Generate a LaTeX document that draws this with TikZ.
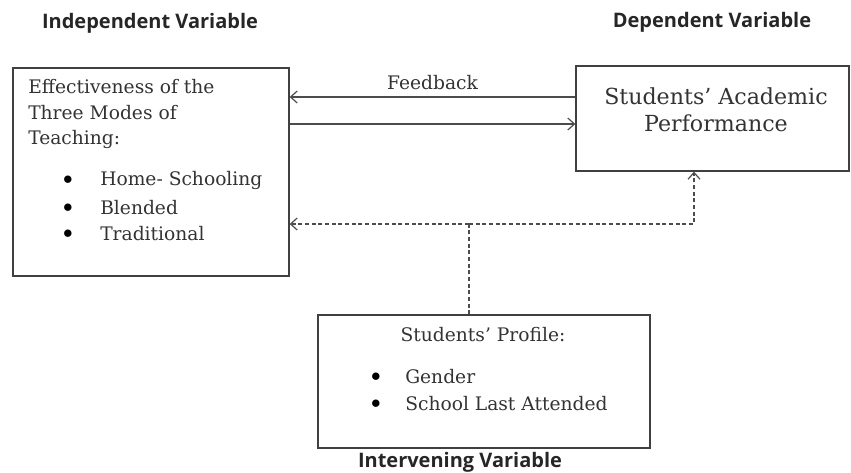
\documentclass[tikz,border=0pt]{standalone}
\usepackage{fontspec}
\setmainfont{DejaVu Serif}
\newfontfamily\headfont{Open Sans}
\usetikzlibrary{arrows.meta}
\begin{document}
\begin{tikzpicture}[x=0.75pt,y=-0.75pt,
  box/.style={draw=black!75,line width=1pt,inner sep=0pt},
  conn/.style={draw=black!70,line width=0.9pt,-{Straight Barb[length=5pt,width=9pt]}},
  dconn/.style={conn,dash pattern=on 3pt off 2pt},
  head/.style={font=\headfont\bfseries\fontsize{15}{18}\selectfont,text=black!85},
  txt/.style={font=\fontsize{14}{16}\selectfont,text=black!80,inner sep=0pt},
  blt/.style={font=\fontsize{15}{16}\selectfont,text=black,inner sep=0pt}]
\useasboundingbox (0,0) rectangle (851,472);
\node[head] (hi) at (150,23) {Independent Variable};
\node[head] (hd) at (712,22) {Dependent Variable};
\node[head] (hv) at (460,462) {Intervening Variable};
% boxes
\node[box,minimum width=207pt,minimum height=156pt] (ind) at (151,172) {};
\node[box,minimum width=204.75pt,minimum height=78.75pt] (dep) at (712.5,118.5) {};
\node[box,minimum width=249pt,minimum height=99.75pt] (prof) at (484,381.5) {};
% texts
\node[txt,anchor=west] (t1) at (28,87) {Effectiveness of the};
\node[txt,anchor=west] (t2) at (28,113) {Three Modes of};
\node[txt,anchor=west] (t3) at (28,139) {Teaching:};
\node[blt] (b1) at (68,180) {$\bullet$};
\node[blt] (b2) at (68,208) {$\bullet$};
\node[blt] (b3) at (68,234) {$\bullet$};
\node[txt,anchor=west] (t4) at (100,180) {Home- Schooling};
\node[txt,anchor=west] (t5) at (100,208) {Blended};
\node[txt,anchor=west] (t6) at (100,234) {Traditional};
\node[txt,font=\fontsize{16.6}{18}\selectfont] (r1) at (716,96) {Students' Academic};
\node[txt,font=\fontsize{16.6}{18}\selectfont] (r2) at (716,123) {Performance};
\node[txt] (p1) at (483,335) {Students' Profile:};
\node[blt] (c1) at (376,377) {$\bullet$};
\node[blt] (c2) at (376,404) {$\bullet$};
\node[txt,anchor=west] (p2) at (405,377) {Gender};
\node[txt,anchor=west] (p3) at (405,404) {School Last Attended};
% connectors
\coordinate (fbR) at (dep.west |- 0,97);
\coordinate (fbL) at (ind.east |- 0,97);
\coordinate (fwL) at (ind.east |- 0,124);
\coordinate (fwR) at (dep.west |- 0,124);
\draw[conn] (fbR) -- node[txt,above=5pt] (fb) {Feedback} (fbL);
\draw[conn] (fwL) -- (fwR);
\coordinate (ps) at (prof.north -| 469,0);
\coordinate (pj) at (469,224);
\coordinate (dl) at (ind.east |- 0,224);
\coordinate (dr) at (694,224);
\coordinate (du) at (dep.south -| 694,0);
\draw[dconn,-] (ps) -- (pj);
\draw[dconn] (pj) -- (dl);
\draw[dconn] (pj) -- (dr) -- (du);
\end{tikzpicture}
\end{document}
